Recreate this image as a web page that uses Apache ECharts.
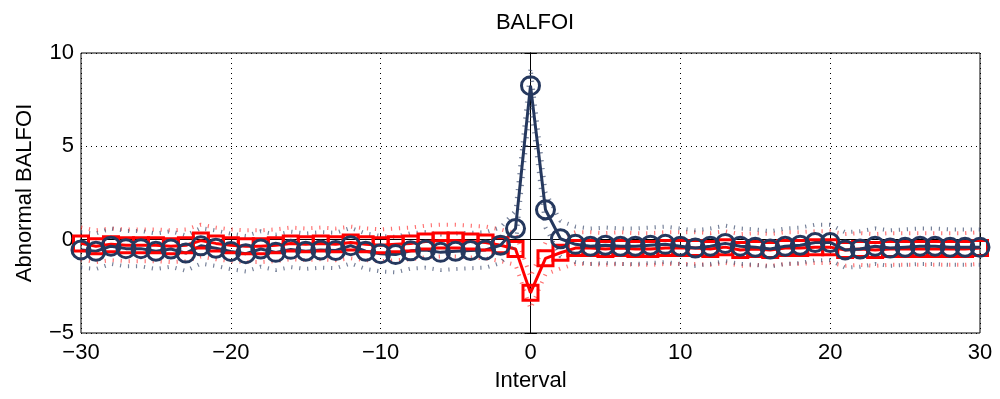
<!DOCTYPE html>
<html>
<head>
<meta charset="utf-8">
<script src="https://cdn.jsdelivr.net/npm/echarts@6/dist/echarts.min.js"></script>
<style>
  html, body { margin: 0; padding: 0; background: #fff; }
  #chart { width: 1000px; height: 399px; }
</style>
</head>
<body>
<div id="chart"></div>
<script>
// Event-window intervals
const intervals = [-30,-29,-28,-27,-26,-25,-24,-23,-22,-21,-20,-19,-18,-17,-16,-15,-14,-13,-12,-11,
  -10,-9,-8,-7,-6,-5,-4,-3,-2,-1,0,1,2,3,4,5,6,7,8,9,10,11,12,13,14,15,16,17,18,19,20,
  21,22,23,24,25,26,27,28,29,30];

// Abnormal BALFOI, first group (navy circles)
const navyValues = [-0.55,-0.62,-0.35,-0.48,-0.48,-0.62,-0.5,-0.72,-0.33,-0.46,-0.63,-0.75,
  -0.5,-0.68,-0.52,-0.62,-0.55,-0.58,-0.32,-0.62,-0.75,-0.8,-0.6,-0.55,-0.68,-0.62,-0.58,-0.55,
  -0.3,0.6,8.25,1.6,0.05,-0.25,-0.35,-0.3,-0.35,-0.35,-0.3,-0.25,-0.35,-0.45,-0.35,-0.2,-0.35,
  -0.4,-0.5,-0.35,-0.3,-0.15,-0.15,-0.55,-0.5,-0.35,-0.45,-0.4,-0.35,-0.35,-0.4,-0.4,-0.4];

// Abnormal BALFOI, second group (red squares)
const redValues = [-0.2,-0.35,-0.25,-0.3,-0.3,-0.3,-0.35,-0.3,-0.05,-0.2,-0.3,-0.35,-0.35,
  -0.3,-0.2,-0.25,-0.2,-0.25,-0.15,-0.25,-0.3,-0.25,-0.2,-0.1,-0.05,-0.05,-0.1,-0.15,-0.3,-0.5,
  -2.85,-1.0,-0.7,-0.45,-0.45,-0.5,-0.45,-0.5,-0.5,-0.45,-0.45,-0.45,-0.5,-0.4,-0.55,-0.5,-0.55,
  -0.45,-0.45,-0.4,-0.4,-0.55,-0.5,-0.55,-0.5,-0.5,-0.5,-0.5,-0.5,-0.5,-0.45];

// Confidence half-widths around each series
const navySpread = [0.95,0.95,0.95,0.95,0.95,0.95,0.95,0.95,0.95,0.95,0.95,0.95,0.95,0.95,
  0.95,0.95,0.95,0.95,0.95,0.95,0.95,0.95,0.95,0.95,0.95,0.95,0.95,0.95,0.95,0.95,0.95,0.95,
  0.95,0.95,0.95,0.95,0.95,0.95,0.95,0.95,0.95,0.95,0.95,0.95,0.95,0.95,0.95,0.95,0.95,0.95,
  0.95,0.95,0.95,0.95,0.95,0.95,0.95,0.95,0.95,0.95,0.95];
const redSpread = [0.85,0.85,0.85,0.85,0.85,0.85,0.85,0.85,0.85,0.85,0.85,0.85,0.85,0.85,
  0.85,0.85,0.85,0.85,0.85,0.85,0.85,0.85,0.85,0.85,0.85,0.85,0.85,0.85,0.85,0.85,0.85,0.85,
  0.85,0.85,0.85,0.85,0.85,0.85,0.85,0.85,0.85,0.85,0.85,0.85,0.85,0.85,0.85,0.85,0.85,0.85,
  0.85,0.85,0.85,0.85,0.85,0.85,0.85,0.85,0.85,0.85,0.85];

const xTicks = [-30, -20, -10, 0, 10, 20, 30];
const yTicks = [-5, 0, 5, 10];

const NAVY = '#25385e';
const RED = '#ff0000';
const FONT = 'Liberation Sans, Arial, sans-serif';

const pairs = (vals, off, sign) => intervals.map((x, i) => [x, vals[i] + (off ? sign * off[i] : 0)]);
const minusSign = v => String(v).replace('-', '\u2212');

function bandSeries(vals, spread, sign, color) {
  return {
    type: 'line', data: pairs(vals, spread, sign), showSymbol: false, silent: true,
    clip: false,
    lineStyle: { color: color, width: 4, type: [1.2, 6.8], cap: 'butt' }
  };
}

const chart = echarts.init(document.getElementById('chart'), null, { renderer: 'canvas' });
chart.setOption({
  animation: false,
  backgroundColor: '#fff',
  title: {
    text: 'BALFOI', left: 530, textAlign: 'center', top: 7,
    textStyle: { fontFamily: FONT, fontSize: 22, fontWeight: 'normal', color: '#000' }
  },
  grid: { left: 81, right: 20, top: 53, bottom: 66, show: true, borderColor: '#000', borderWidth: 1 },
  xAxis: [{
    type: 'value', min: -30, max: 30, interval: 10,
    name: 'Interval', nameLocation: 'middle', nameGap: 37,
    nameTextStyle: { fontFamily: FONT, fontSize: 22, color: '#000' },
    axisLine: { lineStyle: { color: '#000', width: 1 } },
    axisTick: { inside: true, length: 6, lineStyle: { color: '#000' } },
    axisLabel: { fontFamily: FONT, fontSize: 22, color: '#000', margin: 9,
      formatter: v => xTicks.includes(v) ? minusSign(v) : '' },
    splitLine: { show: true, lineStyle: { color: '#000', width: 1, type: [1, 4] } }
  }, {
    type: 'value', min: -30, max: 30, interval: 10, position: 'top',
    axisLine: { lineStyle: { color: '#000' } },
    axisTick: { inside: true, length: 6, lineStyle: { color: '#000' } },
    axisLabel: { show: false }, splitLine: { show: false }
  }],
  yAxis: [{
    type: 'value', min: -5, max: 10, interval: 5,
    name: 'Abnormal BALFOI', nameLocation: 'middle', nameGap: 45,
    nameTextStyle: { fontFamily: FONT, fontSize: 22, color: '#000' },
    axisLine: { show: true, lineStyle: { color: '#000', width: 1 } },
    axisTick: { show: true, inside: true, length: 6, lineStyle: { color: '#000' } },
    axisLabel: { fontFamily: FONT, fontSize: 22, color: '#000', margin: 7,
      formatter: v => yTicks.includes(v) ? minusSign(v) : '' },
    splitLine: { show: true, lineStyle: { color: '#000', width: 1, type: [1, 4] } }
  }, {
    type: 'value', min: -5, max: 10, interval: 5, position: 'right',
    axisLine: { show: true, lineStyle: { color: '#000' } },
    axisTick: { show: true, inside: true, length: 6, lineStyle: { color: '#000' } },
    axisLabel: { show: false }, splitLine: { show: false }
  }],
  series: [
    bandSeries(redValues, redSpread, 1, 'rgba(255,40,40,0.65)'),
    bandSeries(redValues, redSpread, -1, 'rgba(255,40,40,0.65)'),
    {
      type: 'line', data: pairs(redValues), clip: false, silent: true,
      symbol: 'rect', symbolSize: 15, showAllSymbol: true,
      lineStyle: { color: RED, width: 3 },
      itemStyle: { color: 'rgba(0,0,0,0)', borderColor: RED, borderWidth: 3 }
    },
    bandSeries(navyValues, navySpread, 1, 'rgba(60,75,110,0.7)'),
    bandSeries(navyValues, navySpread, -1, 'rgba(60,75,110,0.7)'),
    {
      type: 'line', data: pairs(navyValues), clip: false, silent: true,
      symbol: 'circle', symbolSize: 18, showAllSymbol: true,
      lineStyle: { color: NAVY, width: 3 },
      itemStyle: { color: 'rgba(0,0,0,0)', borderColor: NAVY, borderWidth: 3 }
    }
  ]
});
</script>
</body>
</html>
